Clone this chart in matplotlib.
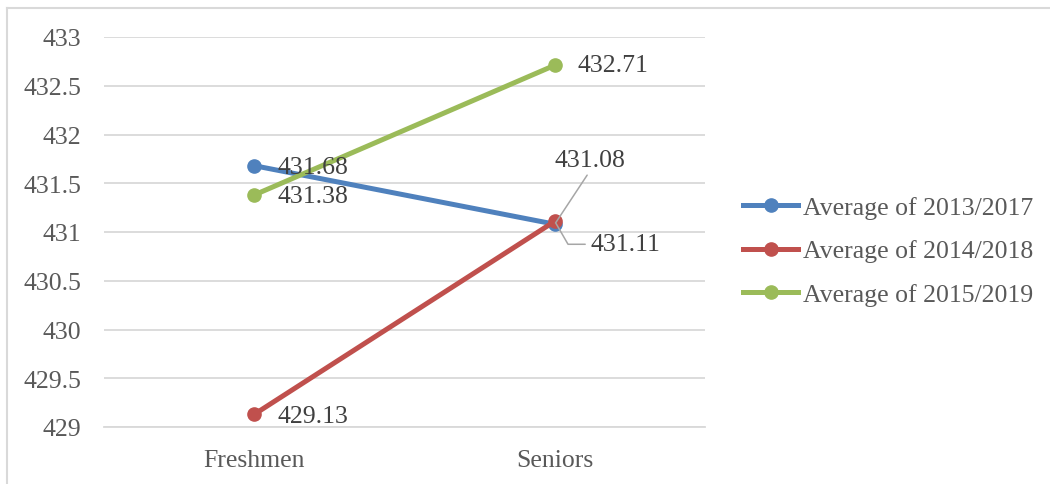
import matplotlib.pyplot as plt
from matplotlib.lines import Line2D

# data
groups = ["Freshmen", "Seniors"]
series_names = ["Average of 2013/2017", "Average of 2014/2018", "Average of 2015/2019"]
avg_2013_2017 = [431.68, 431.08]
avg_2014_2018 = [429.13, 431.11]
avg_2015_2019 = [431.38, 432.71]
y_ticks = [429, 429.5, 430, 430.5, 431, 431.5, 432, 432.5, 433]

colors = ["#4F81BD", "#C0504D", "#9BBB59"]
grid_col = "#D9D9D9"
text_col = "#595959"
label_col = "#404040"

plt.rcParams["font.family"] = ["Liberation Serif", "DejaVu Serif"]

fig = plt.figure(figsize=(10.5, 4.85), dpi=100)
ax = fig.add_axes([104 / 1050, 1 - 428 / 485, 601 / 1050, 390 / 485])

xs = [0.5, 1.5]
all_series = [avg_2013_2017, avg_2014_2018, avg_2015_2019]
for vals, col in zip(all_series, colors):
    ax.plot(xs, vals, color=col, lw=3.6, marker="o", ms=9.5,
            solid_capstyle="round", zorder=3)

ax.set_xlim(0, 2)
ax.set_ylim(429, 433)
ax.set_yticks(y_ticks)
ax.set_yticklabels([f"{t:g}" for t in y_ticks])
ax.set_xticks(xs)
ax.set_xticklabels(groups)
ax.tick_params(length=0, labelsize=18.5, colors=text_col)
ax.tick_params(axis="y", pad=16.5)
ax.tick_params(axis="x", pad=16)
ax.grid(axis="y", color=grid_col, lw=1.3)
ax.set_axisbelow(True)
for side in ["top", "right", "left"]:
    ax.spines[side].set_visible(False)
ax.spines["bottom"].set_color(grid_col)
ax.spines["bottom"].set_linewidth(1.3)

# data labels to the right of the points
lab_kw = dict(fontsize=18.5, color=label_col, va="center", ha="left", zorder=4)
ax.annotate(f"{avg_2013_2017[0]:.2f}", (xs[0], avg_2013_2017[0]),
            xytext=(23, -1), textcoords="offset pixels", **lab_kw)
ax.annotate(f"{avg_2015_2019[0]:.2f}", (xs[0], avg_2015_2019[0]),
            xytext=(23, -1), textcoords="offset pixels", **lab_kw)
ax.annotate(f"{avg_2014_2018[0]:.2f}", (xs[0], avg_2014_2018[0]),
            xytext=(23, -2), textcoords="offset pixels", **lab_kw)
ax.annotate(f"{avg_2015_2019[1]:.2f}", (xs[1], avg_2015_2019[1]),
            xytext=(23, 0), textcoords="offset pixels", **lab_kw)

# the two Senior labels that overlap get leader lines
leader = dict(arrowstyle="-", color="#A6A6A6", lw=1.1)
ax.annotate(f"{avg_2013_2017[1]:.2f}", (xs[1], avg_2013_2017[1]),
            xytext=(35, 64), textcoords="offset pixels",
            fontsize=18.5, color=label_col, ha="center", va="center",
            arrowprops=dict(**leader, relpos=(0.5, 0), shrinkA=1, shrinkB=1),
            zorder=4)
ax.annotate(f"{avg_2014_2018[1]:.2f}", (xs[1], avg_2014_2018[1]),
            xytext=(36, -23), textcoords="offset pixels",
            fontsize=18.5, color=label_col, ha="left", va="center",
            arrowprops=dict(**leader, relpos=(0, 0.5),
                            connectionstyle="angle,angleA=0,angleB=-60,rad=0",
                            shrinkA=2, shrinkB=2), zorder=4)

# legend
handles = [Line2D([], [], color=c, lw=3.6, marker="o", ms=9.5) for c in colors]
leg = fig.legend(handles, series_names, loc="center left",
                 bbox_to_anchor=(743 / 1050, 1 - 252 / 485), frameon=False,
                 fontsize=18.5, handlelength=2.15, handletextpad=0.18,
                 labelspacing=0.8, borderaxespad=0, borderpad=0)
for t in leg.get_texts():
    t.set_color(text_col)

# chart border
fig.add_artist(Line2D([7 / 1050, 1], [1 - 9 / 485, 1 - 9 / 485],
                      color=grid_col, lw=1.5, transform=fig.transFigure))
fig.add_artist(Line2D([7 / 1050, 7 / 1050], [0, 1 - 9 / 485],
                      color=grid_col, lw=1.5, transform=fig.transFigure))

fig.savefig("out.png", dpi=100)
